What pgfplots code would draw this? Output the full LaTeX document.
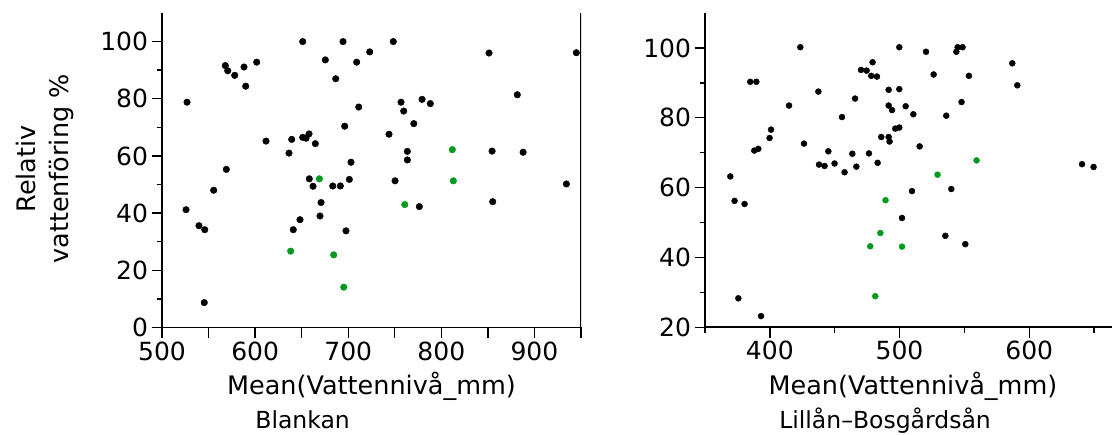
\documentclass[border=0pt]{standalone}
\usepackage{pgfplots}
\pgfplotsset{compat=1.18}
\usepackage{fontspec}
\setmainfont{DejaVu Sans}
\definecolor{dotgreen}{RGB}{0,155,30}

\pgfplotstableread{
x y
651.1 100.0
694.4 100.0
723.1 96.4
568.0 91.6
570.6 89.8
588.1 91.1
601.7 92.8
578.1 88.2
675.4 93.6
709.1 92.8
686.6 87.0
589.9 84.4
526.9 78.8
711.3 77.1
696.2 70.4
611.7 65.2
639.3 65.8
651.1 66.5
654.7 66.2
657.9 67.7
664.7 64.3
636.4 61.0
703.0 57.8
569.1 55.3
658.2 52.0
701.2 51.8
748.4 100.0
851.2 96.0
945.0 96.1
881.6 81.4
756.7 78.8
779.3 79.8
788.2 78.3
759.6 75.7
770.4 71.3
743.8 67.6
763.5 61.6
763.5 58.6
854.5 61.7
887.8 61.3
750.3 51.3
662.2 49.4
683.4 49.5
691.5 49.5
555.5 48.0
525.8 41.2
670.8 43.7
669.7 39.0
648.2 37.7
641.0 34.2
539.7 35.6
545.9 34.2
697.6 33.8
545.4 8.7
776.4 42.3
855.2 44.0
934.3 50.2
}\blankanblack

\pgfplotstableread{
x y
669.0 52.0
811.8 62.2
812.9 51.3
638.2 26.7
684.4 25.4
695.2 14.1
760.7 43.0
}\blankangreen

\pgfplotstableread{
x y
423.5 100.2
384.9 90.3
389.6 90.3
414.8 83.5
437.4 87.5
455.6 80.2
465.7 85.5
470.3 93.7
474.6 93.5
479.2 95.9
478.2 92.0
482.6 91.8
491.6 88.0
491.6 83.5
494.2 82.2
400.9 76.6
399.8 74.2
388.0 70.6
391.1 71.1
426.3 72.6
445.1 70.4
437.9 66.6
442.2 66.2
449.9 66.9
457.6 64.4
463.6 69.7
466.7 66.0
476.4 69.8
483.1 67.1
485.9 74.5
491.6 74.5
492.3 73.2
369.5 63.2
499.8 100.2
520.4 98.9
544.8 100.2
548.6 100.2
543.8 98.9
586.9 95.6
526.3 92.4
553.5 92.0
590.8 89.3
499.8 88.2
547.8 84.5
504.7 83.3
510.6 81.0
536.0 80.6
496.7 76.9
499.8 77.2
515.5 71.8
640.7 66.7
649.6 65.9
509.6 59.0
539.9 59.6
372.8 56.2
380.5 55.3
375.7 28.3
393.2 23.2
501.9 51.3
535.3 46.2
550.7 43.8
}\lillanblack

\pgfplotstableread{
x y
559.4 67.8
529.3 63.7
489.2 56.4
485.2 47.0
477.4 43.2
481.3 28.9
501.9 43.1
}\lillangreen

\begin{document}
\begin{tikzpicture}[x=1pt,y=1pt]
\pgfplotsset{
  every axis/.append style={
    scale only axis,
    axis x line*=bottom, axis y line*=left,
    axis line style={-, line width=1.6pt},
    every tick/.style={black, line width=1.4pt},
    tick align=outside,
    major tick length=10.5pt, minor tick length=5.5pt,
    tick label style={font=\fontsize{25}{30}\selectfont},
    /pgf/number format/assume math mode=true,
    xlabel style={font=\fontsize{25.5}{30}\selectfont, anchor=base},
  }
}
% Left panel: Blankan
\begin{axis}[
  at={(162pt,107.5pt)}, anchor=south west,
  width=419pt, height=314.5pt,
  xmin=500, xmax=950, ymin=0, ymax=110,
  xtick={500,550,600,650,700,750,800,850,900,950},
  xticklabels={500,,600,,700,,800,,900,},
  ytick={0,20,40,60,80,100},
  minor ytick={10,30,50,70,90},
  xlabel={Mean(Vattenniv\aa\_mm)},
  xlabel style={at={(axis description cs:0.5,-0.2146)}},
]
\addplot[only marks, mark=*, mark size=3.3pt, black] table[x=x,y=y] {\blankanblack};
\addplot[only marks, mark=*, mark size=3.3pt, dotgreen] table[x=x,y=y] {\blankangreen};
\draw[line width=1.6pt] (rel axis cs:1,0) -- (rel axis cs:1,1);
\end{axis}
% Right panel: Lillån–Bosgårdsån
\begin{axis}[
  at={(705pt,107.7pt)}, anchor=south west,
  width=407pt, height=314.3pt,
  xmin=350, xmax=663.8, ymin=20, ymax=110,
  xtick={400,500,600},
  minor xtick={350,450,550,650},
  ytick={20,40,60,80,100},
  minor ytick={30,50,70,90},
  xlabel={Mean(Vattenniv\aa\_mm)},
  xlabel style={at={(axis description cs:0.511,-0.2147)}},
]
\addplot[only marks, mark=*, mark size=3.0pt, black] table[x=x,y=y] {\lillanblack};
\addplot[only marks, mark=*, mark size=3.0pt, dotgreen] table[x=x,y=y] {\lillangreen};
\end{axis}
% y label
\node[rotate=90, anchor=base, font=\fontsize{25.5}{30}\selectfont] at (35,266) {Relativ};
\node[rotate=90, anchor=base, font=\fontsize{25.5}{30}\selectfont] at (68,266) {vattenföring \%};
% panel titles
\node[anchor=base, inner sep=0pt, font=\fontsize{23.5}{28}\selectfont] at (302.6,6.2) {Blankan};
\node[anchor=base, inner sep=0pt, font=\fontsize{23.5}{28}\selectfont] at (885,6.2) {Lillån–Bosgårdsån};
\pgfresetboundingbox
\path[use as bounding box] (0,0) rectangle (1112,435);
\end{tikzpicture}
\end{document}
